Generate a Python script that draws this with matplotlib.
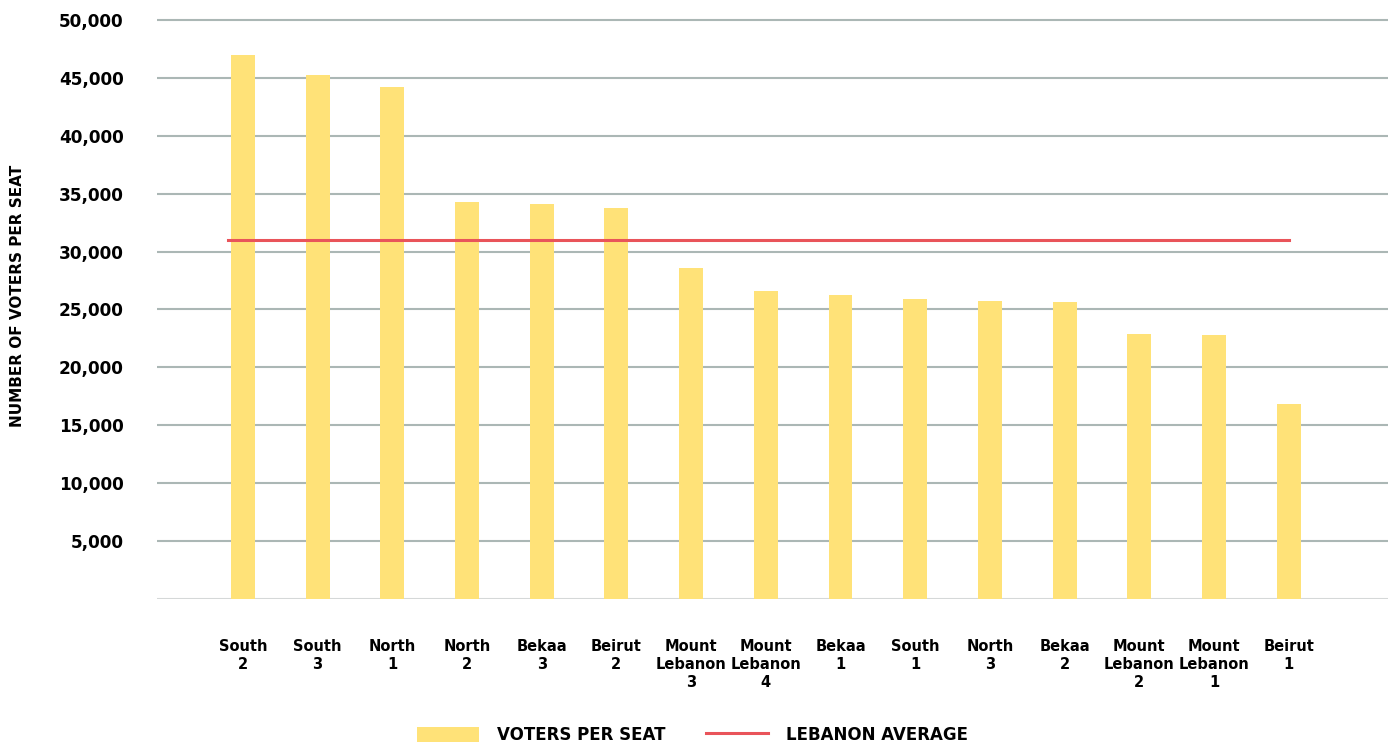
import matplotlib
matplotlib.use("Agg")
import matplotlib.pyplot as plt
from matplotlib.patches import Patch
from matplotlib.lines import Line2D
from matplotlib.ticker import FuncFormatter

# voters per seat by district
districts = ["South\n2", "South\n3", "North\n1", "North\n2", "Bekaa\n3", "Beirut\n2",
             "Mount\nLebanon\n3", "Mount\nLebanon\n4", "Bekaa\n1", "South\n1", "North\n3",
             "Bekaa\n2", "Mount\nLebanon\n2", "Mount\nLebanon\n1", "Beirut\n1"]
voters_per_seat = [46980, 45250, 44200, 34280, 34100, 33760, 28580, 26600, 26250,
                   25900, 25730, 25650, 22880, 22800, 16840]
lebanon_average = 31000
y_ticks = [5000, 10000, 15000, 20000, 25000, 30000, 35000, 40000, 45000, 50000]

BAR = "#FFE278"
RED = "#E9545A"
GRID = "#ABB7B5"

plt.rcParams["font.family"] = ["DejaVu Sans"]
plt.rcParams["font.weight"] = "bold"

fig = plt.figure(figsize=(13.88, 7.47), dpi=100)
ax = fig.add_axes([157 / 1388, 1 - 599 / 747, 1 - 157 / 1388, (599 - 14.2) / 747])

x = list(range(len(districts)))
ax.bar(x, voters_per_seat, width=0.32, color=BAR, zorder=2)
ax.plot([-0.2, len(districts) - 1], [lebanon_average] * 2, color=RED, lw=2.2, zorder=3)

ax.set_xlim(-1.15, 15.33)
ax.set_ylim(0, 50500)
ax.set_yticks(y_ticks)
ax.yaxis.set_major_formatter(FuncFormatter(lambda v, _: f"{int(v):,}"))
ax.grid(axis="y", color=GRID, lw=1.5, zorder=1)
ax.axhline(0, color="#D5D8D8", lw=1.5, zorder=1)
for s in ax.spines.values():
    s.set_visible(False)
ax.tick_params(axis="y", length=0, pad=24, labelsize=12.2)
ax.tick_params(axis="x", length=0, pad=29, labelsize=10.5)
ax.set_xticks(x)
ax.set_xticklabels(districts, linespacing=1.25)
for t in ax.get_yticklabels():
    t.set_fontweight("bold")
for t in ax.get_xticklabels():
    t.set_fontweight("bold")

fig.text(18 / 1388, 1 - 296 / 747, "NUMBER OF VOTERS PER SEAT", rotation=90,
         ha="center", va="center", fontsize=11, fontweight="bold")

handles = [Patch(facecolor=BAR, edgecolor="none"), Line2D([], [], color=RED, lw=2.2)]
fig.legend(handles, ["VOTERS PER SEAT", "LEBANON AVERAGE"], loc="center",
           bbox_to_anchor=(0.499, 0.016), ncol=2, frameon=False, fontsize=12,
           handlelength=3.7, handleheight=1.0, handletextpad=1.1, columnspacing=2.4)

fig.savefig("out.png", dpi=100)
